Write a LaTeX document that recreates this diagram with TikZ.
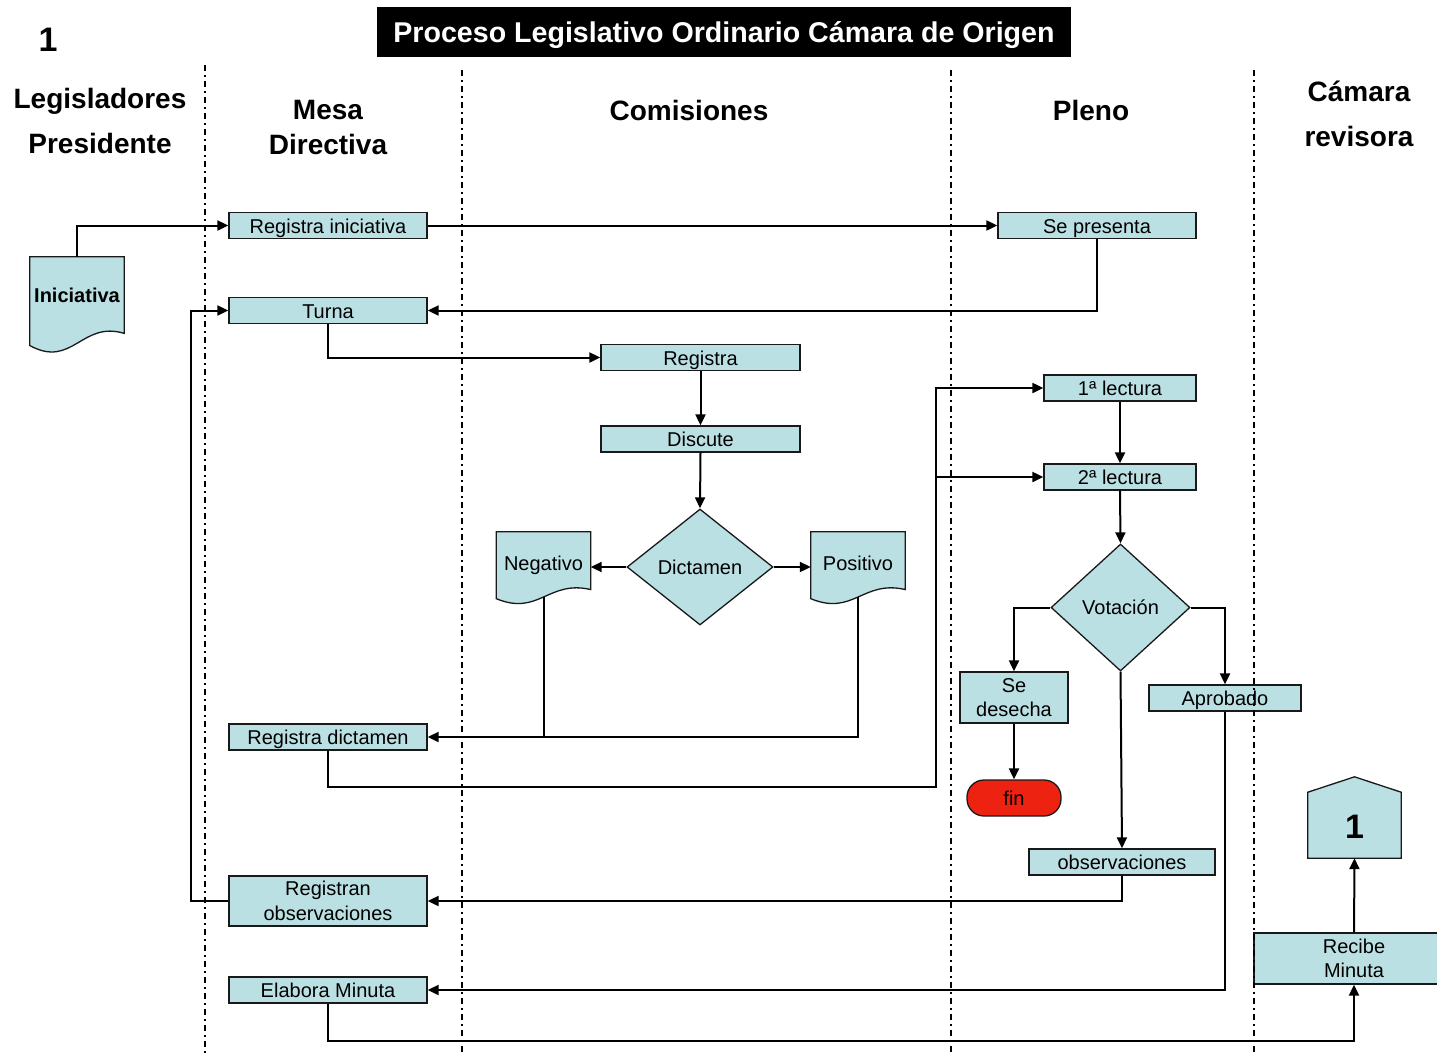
\documentclass[tikz,border=0pt]{standalone}
\usepackage{fontspec}
\setmainfont{Liberation Sans}
\usetikzlibrary{arrows.meta,shapes.geometric,backgrounds,calc}
\definecolor{cajaazul}{RGB}{187,224,227}
\definecolor{rojofin}{RGB}{238,34,17}

% hoja con borde ondulado (documento)
\newcommand{\hoja}[1]{%
  \draw[draw=black!90, fill=cajaazul, line width=1.3pt] let \p1=(#1.south west), \p2=(#1.north east), \n1={\x2-\x1}, \n2={\y2-\y1} in
    (\x1,\y2) -- (\x2,\y2) -- (\x2,\y1+0.18*\n2)
    .. controls (\x1+0.55*\n1,\y1+0.32*\n2) and (\x1+0.45*\n1,\y1-0.2*\n2) .. (\x1,\y1+0.05*\n2) -- cycle;}

\begin{document}
\begin{tikzpicture}[x=1pt, y=-1pt,
    caja/.style={draw=black!90, fill=cajaazul, line width=1.3pt, inner sep=0pt, minimum height=26pt, align=center, font=\fontsize{20}{24.5}\selectfont},
    unalinea/.style={text height=16pt, text depth=1pt},
    rombo/.style={diamond, draw=black!90, fill=cajaazul, line width=1.3pt, inner sep=0pt, font=\fontsize{20}{24}\selectfont},
    hojatexto/.style={inner sep=0pt, minimum width=94pt, anchor=base, font=\fontsize{20}{24}\selectfont},
    encabezado/.style={align=center, font=\bfseries\fontsize{28}{34}\selectfont},
    flecha/.style={line width=2pt, -{Triangle[length=11pt,width=10pt]}},
    linea/.style={line width=2pt},
    carril/.style={line width=1.2pt, dash pattern=on 6pt off 4pt on 1.5pt off 4.5pt}]

    \useasboundingbox (0,0) rectangle (1437,1053);

    % titulo y encabezados
    \node[fill=black, text=white, minimum width=694pt, minimum height=50pt, text height=21pt, text depth=1pt, font=\bfseries\fontsize{28.6}{34}\selectfont] (titulo) at (724,32) {Proceso Legislativo Ordinario Cámara de Origen};
    \node[font=\bfseries\fontsize{34}{40}\selectfont] (uno) at (48,40) {1};
    \node[encabezado, font=\bfseries\fontsize{28}{45}\selectfont] (legis) at (100,121) {Legisladores\\Presidente};
    \node[encabezado, font=\bfseries\fontsize{28}{35}\selectfont] (mesa) at (328,127) {Mesa\\Directiva};
    \node[encabezado] (comisiones) at (689,110) {Comisiones};
    \node[encabezado] (pleno) at (1091,110) {Pleno};
    \node[encabezado, font=\bfseries\fontsize{28}{45}\selectfont] (camara) at (1359,114) {Cámara\\revisora};

    % legisladores y mesa directiva
    \node[hojatexto, font=\bfseries\fontsize{20}{24}\selectfont, text height=45pt, text depth=48pt] (inic) at (77,302) {Iniciativa};
    \node[caja, unalinea, minimum width=198pt] (reginic) at (328,225.5) {Registra iniciativa};
    \node[caja, unalinea, minimum width=198pt] (turna) at (328,310.5) {Turna};
    \node[caja, unalinea, minimum width=198pt] (regdict) at (328,737) {Registra dictamen};
    \node[caja, minimum width=198pt, minimum height=50pt] (regobs) at (328,901) {Registran\\observaciones};
    \node[caja, unalinea, minimum width=198pt] (minuta) at (328,990) {Elabora Minuta};

    % comisiones
    \node[caja, unalinea, minimum width=199pt] (registra) at (700.5,357.5) {Registra};
    \node[caja, unalinea, minimum width=199pt] (discute) at (700.5,439) {Discute};
    \node[rombo, minimum width=146pt, minimum height=116pt] (dictamen) at (700,567) {Dictamen};
    \node[hojatexto, text height=38pt, text depth=32pt] (negativo) at (543.5,570) {Negativo};
    \node[hojatexto, text height=38pt, text depth=32pt] (positivo) at (858,570) {Positivo};

    % pleno
    \node[caja, unalinea, minimum width=198pt] (presenta) at (1097,225.5) {Se presenta};
    \node[caja, unalinea, minimum width=152pt] (lect1) at (1120,388) {1ª lectura};
    \node[caja, unalinea, minimum width=152pt] (lect2) at (1120,477) {2ª lectura};
    \node[rombo, minimum width=139pt, minimum height=127pt] (votacion) at (1120.5,607.5) {Votación};
    \node[caja, minimum width=108pt, minimum height=51pt] (desecha) at (1014,697.5) {Se\\desecha};
    \node[caja, unalinea, minimum width=152pt] (aprobado) at (1225,698) {Aprobado};
    \node[caja, unalinea, fill=rojofin, rounded corners=17pt, minimum width=94pt, minimum height=36pt] (fin) at (1014,798) {fin};
    \node[caja, unalinea, minimum width=186pt] (observ) at (1122,862) {observaciones};

    % camara revisora
    \node[caja, minimum width=200pt, minimum height=51pt] (recibe) at (1354,958.5) {Recibe\\Minuta};
    \node[inner sep=0pt, minimum width=93pt, text height=61pt, text depth=20pt, anchor=base, font=\bfseries\fontsize{34}{40}\selectfont] (conector) at (1354.5,838) {1};

    \begin{pgfonlayer}{background}
        \hoja{inic}
        \hoja{negativo}
        \hoja{positivo}
        \draw[draw=black!90, fill=cajaazul, line width=1.3pt] (conector.south west) -- (conector.south east) -- ([yshift=66pt]conector.south east) -- (conector.north) -- ([yshift=66pt]conector.south west) -- cycle;
    \end{pgfonlayer}

    % iniciativa -> registra iniciativa
    \draw[flecha] (inic.north) |- (reginic.west);

    % registra iniciativa -> se presenta
    \draw[flecha] (reginic.east) -- (presenta.west);

    % se presenta -> turna
    \draw[flecha] (presenta.south) |- (turna.east);

    % turna -> registra
    \draw[flecha] (turna.south) |- (registra.west);

    % registra -> discute -> dictamen
    \draw[flecha] (registra.south) -- (discute.north);
    \draw[flecha] (discute.south) -- (dictamen.north);

    % dictamen -> negativo, positivo
    \draw[flecha] (dictamen.west) -- (negativo.east);
    \draw[flecha] (dictamen.east) -- (positivo.west);

    % positivo, negativo -> registra dictamen
    \draw[flecha] ([yshift=5pt]positivo.south) |- (regdict.east);
    \draw[linea] ([yshift=5pt]negativo.south) -- (negativo.south |- regdict.east);

    % registra dictamen -> lecturas
    \coordinate (codo) at (936,787);
    \draw[flecha] (regdict.south) |- (codo) |- (lect1.west);
    \draw[flecha] (codo |- lect2.west) -- (lect2.west);

    % lecturas -> votacion
    \draw[flecha] (lect1.south) -- (lect2.north);
    \draw[flecha] (lect2.south) -- (votacion.north);

    % votacion -> se desecha, aprobado, observaciones
    \draw[flecha] (votacion.west) -| (desecha.north);
    \draw[flecha] (votacion.east) -| (aprobado.north);
    \draw[flecha] (votacion.south) -- (observ.north);

    % se desecha -> fin
    \draw[flecha] (desecha.south) -- (fin.north);

    % observaciones -> registran observaciones -> turna
    \draw[flecha] (observ.south) |- (regobs.east);
    \draw[flecha] (regobs.west) -- ++(-37,0) |- (turna.west);

    % aprobado -> elabora minuta -> recibe minuta
    \draw[flecha] (aprobado.south) |- (minuta.east);
    \draw[flecha] (minuta.south) -- ++(0,37) -| (recibe.south);

    % recibe minuta -> conector
    \draw[flecha] (recibe.north) -- (conector.south);

    % carriles
    \draw[carril] (205,65) -- (205,1053);
    \draw[carril] (462,70) -- (462,1053);
    \draw[carril] (951,70) -- (951,1053);
    \draw[carril] (1254,70) -- (1254,1053);

\end{tikzpicture}
\end{document}
